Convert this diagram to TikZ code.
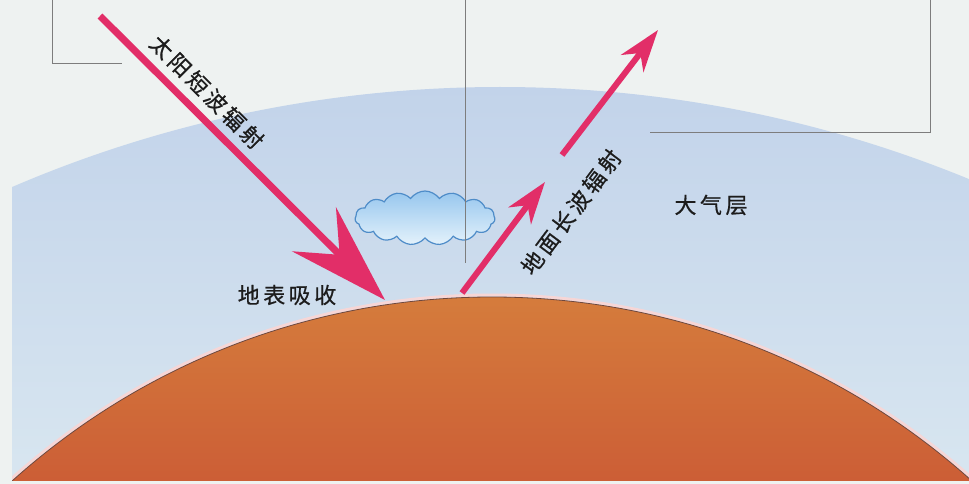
\documentclass[tikz,border=0pt]{standalone}
\usepackage{fontspec}
\newfontfamily\cjk[LetterSpace=16, FakeBold=0.6]{Noto Sans CJK SC}
\usetikzlibrary{arrows.meta,shapes.symbols}

\definecolor{paper}{RGB}{238,242,241}
\definecolor{skytop}{RGB}{194,211,234}
\definecolor{skybot}{RGB}{216,230,240}
\definecolor{soiltop}{RGB}{213,124,60}
\definecolor{soilbot}{RGB}{204,94,54}
\definecolor{rimdark}{RGB}{112,72,62}
\definecolor{rimglow}{RGB}{246,214,214}
\definecolor{raypink}{RGB}{226,46,104}
\definecolor{framegrey}{RGB}{125,125,125}
\definecolor{inkdark}{RGB}{28,28,28}
\definecolor{cloudtop}{RGB}{150,198,238}
\definecolor{cloudbot}{RGB}{228,242,251}
\definecolor{cloudedge}{RGB}{78,140,200}

\tikzset{
  cnlabel/.style={font=\cjk\fontsize{22}{24}\selectfont, text=inkdark, inner sep=0pt},
  framerule/.style={draw=framegrey, line width=0.9pt},
  sunbeam/.style={draw=raypink, line width=7pt,
    -{Stealth[length=100pt,width=62pt,inset=36pt]}},
  heatbeam/.style={draw=raypink, line width=6pt,
    -{Stealth[length=42pt,width=28pt,inset=13pt]}},
}

\begin{document}
\begin{tikzpicture}[x=1pt,y=-1pt]
  \useasboundingbox (0,0) rectangle (969,484);
  \fill[paper] (0,0) rectangle (969,484);

  % atmosphere: a wide arc over the planet
  \begin{scope}
    \clip (12,0) rectangle (969,480);
    \clip (500,1323) circle[radius=1236];
    \shade[top color=skytop, bottom color=skybot] (12,85) rectangle (969,480);
  \end{scope}

  % planet surface
  \begin{scope}
    \clip (12,0) rectangle (969,480);
    \begin{scope}
      \clip (492,1015) circle[radius=718];
      \shade[top color=soiltop, bottom color=soilbot] (12,296) rectangle (969,480);
    \end{scope}
    \draw[rimglow, line width=3pt] (492,1015) circle[radius=720];
    \draw[rimdark, line width=0.8pt] (492,1015) circle[radius=718];
  \end{scope}

  % cloud
  \node[cloud, cloud puffs=15, cloud puff arc=110, aspect=2.7,
        minimum width=140pt, minimum height=54pt, inner sep=0pt,
        top color=cloudtop, bottom color=cloudbot,
        draw=cloudedge, line width=1.2pt] (vapour) at (425,218) {};

  % thin frame rules
  \coordinate (fl1) at (52,0);
  \coordinate (fl2) at (52,63);
  \coordinate (fl3) at (122,63);
  \coordinate (fc1) at (465,0);
  \coordinate (fc2) at (465,263);
  \coordinate (fr1) at (930,0);
  \coordinate (fr2) at (930,132);
  \coordinate (fr3) at (650,132);
  \draw[framerule] (fl1) -- (fl2) -- (fl3);
  \draw[framerule] (fc1) -- (fc2);
  \draw[framerule] (fr1) -- (fr2) -- (fr3);

  % radiation arrows
  \coordinate (sunA) at (100,16);
  \coordinate (sunB) at (385,300);
  \coordinate (upA) at (462,293);
  \coordinate (upB) at (545,182);
  \coordinate (upC) at (562,155);
  \coordinate (upD) at (658,30);
  \draw[sunbeam] (sunA) -- (sunB);
  \draw[heatbeam] (upA) -- (upB);
  \draw[heatbeam] (upC) -- (upD);

  % labels
  \node[cnlabel, rotate=-45] (sw) at (207,92) {太阳短波辐射};
  \node[cnlabel, rotate=53] (lw) at (571,212) {地面长波辐射};
  \node[cnlabel] (absorb) at (287,295) {地表吸收};
  \node[cnlabel] (air) at (711,205) {大气层};
\end{tikzpicture}
\end{document}
